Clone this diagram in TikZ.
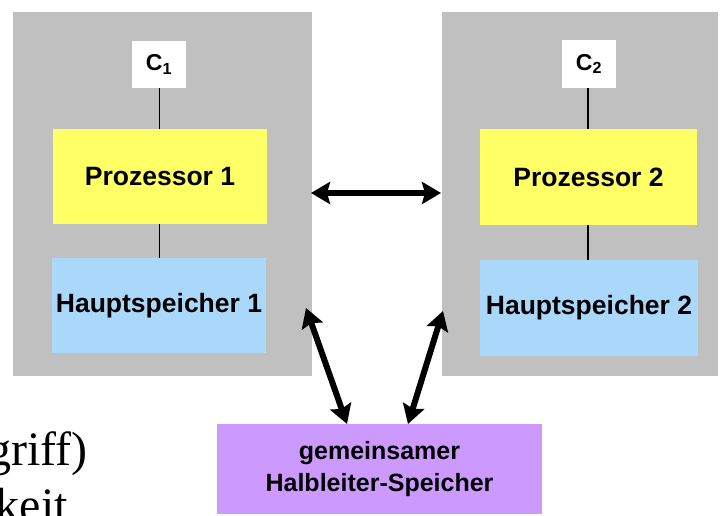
\documentclass[tikz,border=0pt]{standalone}
\usepackage{fontspec}
\setmainfont{Liberation Sans}
\newfontfamily\serifbig{Liberation Serif}
\usetikzlibrary{arrows.meta}
\definecolor{frame}{RGB}{192,192,192}
\definecolor{cpu}{RGB}{255,255,102}
\definecolor{mem}{RGB}{170,216,250}
\definecolor{shared}{RGB}{204,153,255}
\begin{document}
\begin{tikzpicture}[x=1pt,y=-1pt,
  blk/.style={anchor=north west,inner sep=0pt,outer sep=0pt,draw=none,
    font=\fontsize{26.5}{30}\selectfont\bfseries,align=center},
  cache/.style={anchor=north west,inner sep=0pt,outer sep=0pt,fill=white,
    font=\fontsize{23}{26}\selectfont\bfseries},
  wire/.style={line width=1.4pt},
  bus/.style={line width=6pt,{Stealth[length=19pt,width=22pt,inset=3pt]}-{Stealth[length=19pt,width=22pt,inset=3pt]}}]
\useasboundingbox (0,0) rectangle (720,516);
\clip (0,0) rectangle (720,516);
% node boxes
\node[blk,fill=frame,minimum width=299pt,minimum height=364pt] (n1) at (13,12) {};
\node[blk,fill=frame,minimum width=276pt,minimum height=364pt] (n2) at (442,12) {};
\node[cache,minimum width=54pt,minimum height=47pt] (c1) at (132,41) {C\textsubscript{1}};
\node[cache,minimum width=54pt,minimum height=48pt] (c2) at (562,40) {C\textsubscript{2}};
\node[blk,fill=cpu,minimum width=214pt,minimum height=95pt] (p1) at (53,129) {Prozessor 1};
\node[blk,fill=mem,minimum width=214pt,minimum height=95pt] (m1) at (52,258) {Hauptspeicher 1};
\node[blk,fill=cpu,minimum width=217pt,minimum height=96pt] (p2) at (480,129) {Prozessor 2};
\node[blk,fill=mem,minimum width=218pt,minimum height=96pt] (m2) at (480,260) {Hauptspeicher 2};
\node[blk,fill=shared,minimum width=325pt,minimum height=90pt,
  font=\fontsize{25}{32}\selectfont\bfseries] (sm) at (217,424) {gemeinsamer\\Halbleiter-Speicher};
% local wiring
\draw[wire] (c1.south -| 159.5,0) -- (p1.north -| 159.5,0);
\draw[wire] (p1.south -| 159.5,0) -- (m1.north -| 159.5,0);
\draw[wire] (c2.south -| 588,0) -- (p2.north -| 588,0);
\draw[wire] (p2.south -| 588,0) -- (m2.north -| 588,0);
% interconnect
\coordinate (h1) at (311,193);
\coordinate (h2) at (441,193);
\coordinate (d1) at (306,308);
\coordinate (e1) at (347,424);
\coordinate (d2) at (443,311);
\coordinate (e2) at (408,424);
\draw[bus] (h1) -- (h2);
\draw[bus] (d1) -- (e1);
\draw[bus] (d2) -- (e2);
% text running off the left edge
\node[anchor=base east,inner sep=0pt,font=\serifbig\fontsize{48}{56}\selectfont] (t1) at (88,465) {griff)};
\node[anchor=base east,inner sep=0pt,font=\serifbig\fontsize{48}{56}\selectfont] (t2) at (68,521) {keit};
\end{tikzpicture}
\end{document}
